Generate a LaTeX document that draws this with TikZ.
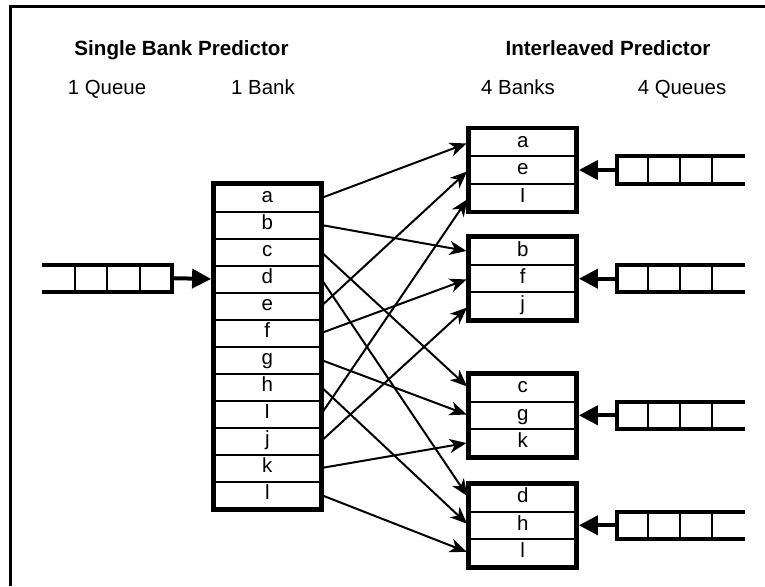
\documentclass[tikz,border=0pt]{standalone}
\usepackage{fontspec}
\setmainfont{Liberation Sans}
\usetikzlibrary{arrows.meta}
\begin{document}
\begin{tikzpicture}[x=1pt,y=-1pt,
  heading/.style={font=\fontsize{20.6}{24}\selectfont\bfseries, inner sep=0pt, anchor=base},
  caption/.style={font=\fontsize{20.4}{24}\selectfont, inner sep=0pt, anchor=base},
  cell/.style={draw, line width=2pt, anchor=north west, inner sep=0pt,
    minimum width=106pt, text height=13.6pt, text depth=4pt,
    font=\fontsize{20.5}{20.5}\selectfont},
  bankframe/.style={draw, line width=4.5pt},
  qline/.style={line width=4pt},
  qdiv/.style={line width=2pt},
  qarrow/.style={line width=4pt, -{Triangle[length=19pt,width=19pt]}, shorten >=2.2pt},
  conn/.style={line width=2pt, -{Stealth[length=17pt,width=14pt,inset=5pt]},
    shorten <=2.2pt, shorten >=2.2pt}
]
\useasboundingbox (0,0) rectangle (765,586);

% outer frame (top and left edges)
\draw[line width=2.5pt] (10.7,586) -- (10.7,6.3) -- (765,6.3);

% headings
\node[heading] (hs) at (181.5,55.5) {Single Bank Predictor};
\node[heading] (hi) at (608,55.5) {Interleaved Predictor};
\node[caption] (c1q) at (107,94.5) {1 Queue};
\node[caption] (c1b) at (263,94.5) {1 Bank};
\node[caption] (c4b) at (518,94.5) {4 Banks};
\node[caption] (c4q) at (682,94.5) {4 Queues};

% single bank with twelve entries
\foreach \t [count=\i from 0] in {a,b,c,d,e,f,g,h,I,j,k,l}
  \node[cell, minimum height=27pt] (L\i) at (213.3,183.5+27*\i) {\t};
\draw[bankframe] (L0.north west) rectangle (L11.south east);

% four interleaved banks
\foreach \top/\ta/\tb/\tc [count=\k from 0] in
   {128/a/e/I, 236.7/b/f/j, 373.3/c/g/k, 483.3/d/h/l} {
  \node[cell, minimum height=27.33pt] (B\k-0) at (468.7,\top) {\ta};
  \node[cell, minimum height=27.33pt] (B\k-1) at (468.7,\top+27.33) {\tb};
  \node[cell, minimum height=27.33pt] (B\k-2) at (468.7,\top+54.67) {\tc};
  \draw[bankframe] (B\k-0.north west) rectangle (B\k-2.south east);
}

% single queue feeding the single bank
\draw[qline] (42,264.7) -- (172,264.7) -- (172,291.7) -- (42,291.7);
\foreach \x in {75,107,139.5}
  \draw[qdiv] (\x,264.7) -- (\x,291.7);
\coordinate (Q) at (172,278.2);
\draw[qarrow] (Q) -- (L3.west);

% one queue per interleaved bank, closed at the bank side
\foreach \k in {0,...,3} {
  \coordinate (m\k) at (B\k-1.east);
  \draw[qline] ([yshift=-13.7pt]m\k -| 745,0) -- ([yshift=-13.7pt]m\k -| 617,0)
     -- ([yshift=13.7pt]m\k -| 617,0) -- ([yshift=13.7pt]m\k -| 745,0);
  \foreach \x in {648,680,712}
    \draw[qdiv] ([yshift=-13.7pt]m\k -| \x,0) -- ([yshift=13.7pt]m\k -| \x,0);
  \coordinate (Q\k) at (m\k -| 617,0);
  \draw[qarrow] (Q\k) -- (B\k-1.east);
}

% routing of each entry to its bank
\foreach \n in {0,...,11} {
  \pgfmathtruncatemacro\bk{mod(\n,4)}
  \pgfmathtruncatemacro\rw{div(\n,4)}
  \draw[conn] (L\n.east) -- (B\bk-\rw.west);
}
\end{tikzpicture}
\end{document}
